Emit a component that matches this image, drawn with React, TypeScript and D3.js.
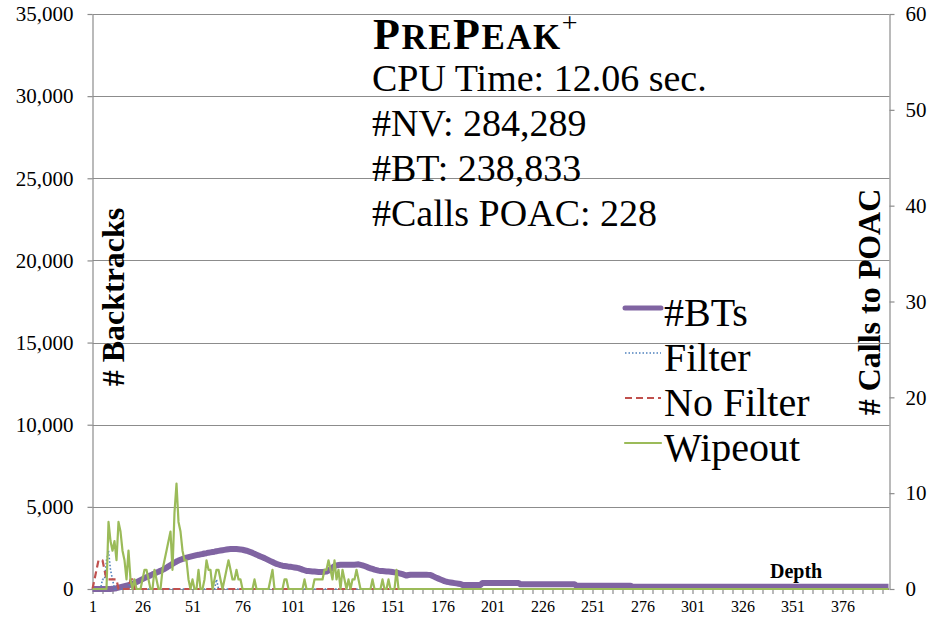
import React, { useEffect, useRef } from "react";
import { axisBottom, axisLeft, axisRight, format, line, range, scaleLinear, select, Selection } from "d3";

const WIDTH = 933;
const HEIGHT = 618;
const PLOT_LEFT = 92.5;
const PLOT_RIGHT = 888.5;
const PLOT_TOP = 14;
const PLOT_BOTTOM = 589;
const FONT = '"Liberation Serif", "Times New Roman", serif';
const AXIS_COLOR = "#8c8c8c";

// depths run 1..399 on the category axis
const DEPTH_COUNT = 399;
const depthLabels = [1, 26, 51, 76, 101, 126, 151, 176, 201, 226, 251, 276, 301, 326, 351, 376];
const leftTicks = [0, 5000, 10000, 15000, 20000, 25000, 30000, 35000];
const rightTicks = [0, 10, 20, 30, 40, 50, 60];

const titleLines = ["CPU Time: 12.06 sec.", "#NV: 284,289", "#BT: 238,833", "#Calls POAC: 228"];

// #BTs (left axis), one value per depth, then [value, count] runs for the flat tail
const btsHead = [
    0, 0, 0, 0, 0, 0, 0, 0, 0, 0,
    10, 30, 50, 80, 110, 140, 170, 200, 230, 260,
    310, 360, 420, 480, 540, 600, 660, 720, 780, 830,
    890, 940, 1000, 1050, 1110, 1160, 1230, 1300, 1380, 1450,
    1530, 1600, 1670, 1730, 1780, 1830, 1870, 1910, 1940, 1970,
    2000, 2030, 2060, 2080, 2110, 2130, 2160, 2180, 2210, 2230,
    2250, 2270, 2300, 2320, 2340, 2360, 2380, 2400, 2420, 2430,
    2430, 2430, 2430, 2420, 2410, 2390, 2360, 2330, 2290, 2250,
    2200, 2140, 2090, 2030, 1980, 1930, 1880, 1820, 1760, 1700,
    1640, 1580, 1530, 1490, 1450, 1420, 1400, 1380, 1360, 1350,
    1330, 1310, 1290, 1270, 1230, 1180, 1140, 1100, 1090, 1080,
    1070, 1060, 1050, 1040, 1040, 1040, 1050, 1060, 1120, 1200,
    1300, 1400, 1440, 1460, 1470, 1470, 1480, 1480, 1470, 1470,
    1480, 1480, 1490, 1500, 1470, 1440, 1400, 1350, 1300, 1260,
    1220, 1180, 1150, 1120, 1100, 1090, 1080, 1070, 1060, 1050,
    1030, 1010, 990, 970, 940, 900, 860, 820, 850, 870,
    870, 870, 870, 870, 870, 870, 870, 870, 860, 850,
    800, 740, 680, 630, 580, 530, 480, 440, 420, 400,
    380, 360, 340, 320, 300,
];
const btsTail: [number, number][] = [[250, 10], [370, 19], [285, 28], [200, 28], [130, 129]];

// calls to POAC (right axis)
const filterHead = [0, 0, 0, 0, 0, 1, 1, 3, 4, 2, 1, 0, 0, 0, 0, 0, 0, 0, 0, 1];
const filterTail: [number, number][] = [[0, 42], [1, 1], [0, 336]];

const noFilterHead = [0, 1, 2, 3, 3, 3, 2, 1, 1, 1, 1, 1, 1, 0, 0, 0, 0, 0, 0, 1, 1];
const noFilterTail: [number, number][] = [[0, 378]];

const wipeoutHead = [
    0, 0, 0, 0, 0, 0, 0, 0, 7, 5,
    4, 5, 3, 7, 6, 4, 3, 1, 4, 1,
    0, 1, 0, 0, 0, 1, 2, 2, 1, 0,
    0, 2, 1, 0, 0, 2, 3, 4, 5, 6,
    2, 8, 11, 7, 6, 4, 3, 3, 1, 0,
    1, 0, 0, 2, 0, 0, 1, 3, 2, 2,
    0, 1, 2, 2, 1, 0, 1, 2, 3, 2,
    1, 1, 2, 1, 1, 0, 0, 0, 0, 0,
    0, 1, 0, 0, 0, 0, 0, 0, 0, 1,
    2, 0, 0, 0, 0, 0, 1, 1, 0, 0,
    0, 0, 0, 0, 0, 0, 1, 0, 0, 0,
    0, 1, 1, 1, 1, 1, 2, 2, 3, 2,
    1, 3, 1, 2, 0, 2, 1, 0, 1, 0,
    1, 1, 2, 1, 0, 0, 0, 0, 0, 0,
    1, 0, 0, 0, 0, 1, 0, 0, 1, 0,
    0, 0, 2, 0, 0, 0, 0, 0, 0, 0,
];
const wipeoutTail: [number, number][] = [[0, 239]];

const expand = (head: number[], tail: [number, number][]) =>
    head.concat(tail.flatMap(([v, n]) => Array(n).fill(v)));

type Series = { name: string; color: string; width: number; dash: string | null; axis: "left" | "right"; values: number[] };

const series: Series[] = [
    { name: "#BTs", color: "#8064A2", width: 6, dash: null, axis: "left", values: expand(btsHead, btsTail) },
    { name: "Filter", color: "#4F81BD", width: 1.6, dash: "1.5,2", axis: "right", values: expand(filterHead, filterTail) },
    { name: "No Filter", color: "#C0504D", width: 2.2, dash: "7,4", axis: "right", values: expand(noFilterHead, noFilterTail) },
    { name: "Wipeout", color: "#9BBB59", width: 2.2, dash: null, axis: "right", values: expand(wipeoutHead, wipeoutTail) },
];

type G = Selection<SVGGElement, unknown, null, undefined>;

const styleAxis = (g: G, fontSize: number) => {
    g.select(".domain").attr("stroke", AXIS_COLOR).attr("stroke-width", 1.2);
    g.selectAll(".tick line").attr("stroke", AXIS_COLOR).attr("stroke-width", 1.2);
    g.selectAll(".tick text").attr("fill", "#000").attr("font-family", FONT).attr("font-size", fontSize);
};

export default function App() {
    const svgRef = useRef<SVGSVGElement>(null);

    useEffect(() => {
        const svg = select(svgRef.current);
        svg.selectAll("*").remove();

        const x = scaleLinear().domain([1, DEPTH_COUNT]).range([PLOT_LEFT, PLOT_RIGHT]);
        const yLeft = scaleLinear().domain([0, 35000]).range([PLOT_BOTTOM, PLOT_TOP]);
        const yRight = scaleLinear().domain([0, 60]).range([PLOT_BOTTOM, PLOT_TOP]);

        svg.append("rect").attr("width", WIDTH).attr("height", HEIGHT).attr("fill", "#fff");

        // gridlines
        svg.append("g")
            .selectAll("line")
            .data(leftTicks.filter(t => t > 0))
            .enter()
            .append("line")
            .attr("x1", PLOT_LEFT)
            .attr("x2", PLOT_RIGHT + 1)
            .attr("y1", d => Math.round(yLeft(d)) + 0.5)
            .attr("y2", d => Math.round(yLeft(d)) + 0.5)
            .attr("stroke", AXIS_COLOR)
            .attr("stroke-width", 1.2);

        const leftAxis = svg.append("g").attr("transform", `translate(${PLOT_LEFT},0)`)
            .call(axisLeft(yLeft).tickValues(leftTicks).tickSize(5).tickSizeOuter(0).tickPadding(14).tickFormat(format(",")));
        styleAxis(leftAxis, 21);

        const rightAxis = svg.append("g").attr("transform", `translate(${PLOT_RIGHT + 1},0)`)
            .call(axisRight(yRight).tickValues(rightTicks).tickSize(5).tickSizeOuter(0).tickPadding(11));
        styleAxis(rightAxis, 21);

        const bottomAxis = svg.append("g").attr("transform", `translate(0,${PLOT_BOTTOM})`)
            .call(axisBottom(x)
                .tickValues(range(1, DEPTH_COUNT + 1, 5))
                .tickSize(5)
                .tickSizeOuter(0)
                .tickPadding(7)
                .tickFormat(d => (depthLabels.includes(+d) ? String(d) : "")));
        styleAxis(bottomAxis, 16);

        // series
        series.forEach(s => {
            const yScale = s.axis === "left" ? yLeft : yRight;
            const path = line<number>()
                .x((_, i) => x(i + 1))
                .y(d => yScale(d));
            svg.append("path")
                .attr("d", path(s.values))
                .attr("fill", "none")
                .attr("stroke", s.color)
                .attr("stroke-width", s.width)
                .attr("stroke-linejoin", "round")
                .attr("stroke-dasharray", s.dash);
        });

        // title block
        const title = svg.append("text")
            .attr("x", 373)
            .attr("y", 49)
            .attr("font-family", FONT)
            .attr("font-weight", "bold")
            .attr("letter-spacing", 1.5);
        [["P", 44], ["RE", 35], ["P", 44], ["EAK", 35]].forEach(([t, size]) => {
            title.append("tspan").attr("font-size", size as number).text(t as string);
        });
        title.append("tspan").attr("font-size", 28).attr("font-weight", "normal").attr("dy", -17).text("+");

        svg.append("g")
            .selectAll("text")
            .data(titleLines)
            .enter()
            .append("text")
            .attr("x", 372)
            .attr("y", (_, i) => 91 + i * 45)
            .attr("font-family", FONT)
            .attr("font-size", 38)
            .text(d => d);

        // axis titles
        svg.append("text")
            .attr("transform", "translate(124,297) rotate(-90)")
            .attr("text-anchor", "middle")
            .attr("font-family", FONT)
            .attr("font-weight", "bold")
            .attr("font-size", 32)
            .text("# Backtracks");

        svg.append("text")
            .attr("transform", "translate(880,302) rotate(-90)")
            .attr("text-anchor", "middle")
            .attr("font-family", FONT)
            .attr("font-weight", "bold")
            .attr("font-size", 32)
            .text("# Calls to POAC");

        svg.append("text")
            .attr("x", 770)
            .attr("y", 578)
            .attr("font-family", FONT)
            .attr("font-weight", "bold")
            .attr("font-size", 20)
            .text("Depth");

        // legend
        const legend = svg.append("g").attr("transform", "translate(625,308)");
        series.forEach((s, i) => {
            const row = legend.append("g").attr("transform", `translate(0,${i * 45})`);
            row.append("line")
                .attr("x1", 0)
                .attr("x2", 36)
                .attr("stroke", s.color)
                .attr("stroke-width", Math.min(s.width, 5))
                .attr("stroke-linecap", s.dash ? "butt" : "round")
                .attr("stroke-dasharray", s.dash);
            row.append("text")
                .attr("x", 39)
                .attr("y", 18)
                .attr("font-family", FONT)
                .attr("font-size", 40)
                .text(s.name);
        });
    }, []);

    return (
        <svg
            ref={svgRef}
            width={WIDTH}
            height={HEIGHT}
            style={{ position: "absolute", left: 0, top: 0 }}
        />
    );
}
